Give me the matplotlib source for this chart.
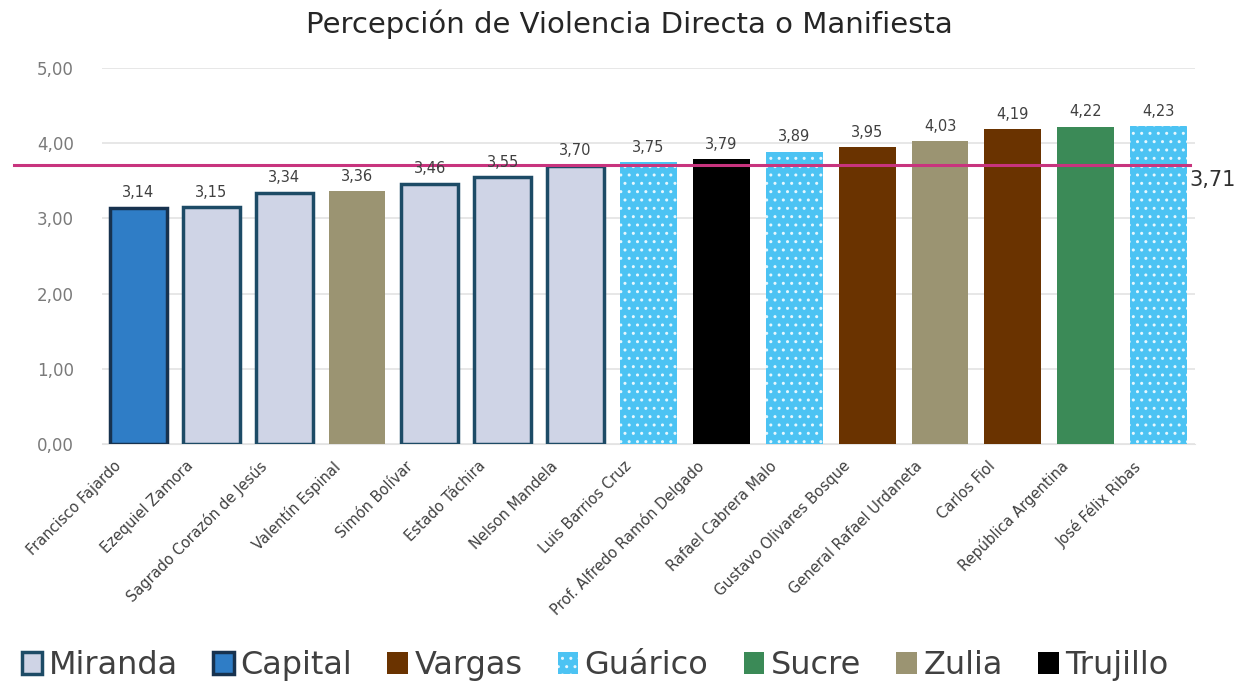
#! usr/bin/env python3
# coding:utf-8

import numpy as np
import matplotlib
matplotlib.use('Agg')
import matplotlib.pyplot as plt
from matplotlib.patches import Patch
import matplotlib.transforms as mtransforms

plt.rcParams['font.family'] = ['DejaVu Sans']

# datos
escuelas = ['Francisco Fajardo', 'Ezequiel Zamora', 'Sagrado Corazón de Jesús',
            'Valentín Espinal', 'Simón Bolívar', 'Estado Táchira', 'Nelson Mandela',
            'Luis Barrios Cruz', 'Prof. Alfredo Ramón Delgado', 'Rafael Cabrera Malo',
            'Gustavo Olivares Bosque', 'General Rafael Urdaneta', 'Carlos Fiol',
            'República Argentina', 'José Félix Ribas']
valores = [3.14, 3.15, 3.34, 3.36, 3.46, 3.55, 3.70, 3.75, 3.79, 3.89,
           3.95, 4.03, 4.19, 4.22, 4.23]
estados = ['Capital', 'Miranda', 'Miranda', 'Zulia', 'Miranda', 'Miranda', 'Miranda',
           'Guárico', 'Trujillo', 'Guárico', 'Vargas', 'Zulia', 'Vargas',
           'Sucre', 'Guárico']
promedio = 3.71
orden_leyenda = ['Miranda', 'Capital', 'Vargas', 'Guárico', 'Sucre', 'Zulia', 'Trujillo']

# estilo de cada estado
estilo = {
    'Miranda': dict(facecolor='#CFD4E6', edgecolor='#1D4B66', linewidth=2.5),
    'Capital': dict(facecolor='#2F7DC6', edgecolor='#17324F', linewidth=2.5),
    'Vargas': dict(facecolor='#6A3300', edgecolor='#6A3300', linewidth=0),
    'Guárico': dict(facecolor='#4CC3F3', edgecolor='#E6F7FE', linewidth=0, hatch='..'),
    'Sucre': dict(facecolor='#3B8A57', edgecolor='#3B8A57', linewidth=0),
    'Zulia': dict(facecolor='#9B9472', edgecolor='#9B9472', linewidth=0),
    'Trujillo': dict(facecolor='black', edgecolor='black', linewidth=0),
}

fig = plt.figure(figsize=(12.58, 6.90), dpi=100)
ax = fig.add_axes([0.081, 0.357, 0.869, 0.544])

x = np.arange(len(escuelas))
for xi, v, e in zip(x, valores, estados):
    ax.bar(xi, v, width=0.78, zorder=3, **estilo[e])
    ax.text(xi, v + 0.1, ('%.2f' % v).replace('.', ','), ha='center', va='bottom',
            fontsize=10.5, color='#404040', zorder=5)

# linea del promedio
trans = mtransforms.blended_transform_factory(ax.transAxes, ax.transData)
ax.plot([-0.08, 0.995], [promedio, promedio], transform=trans, color='#C8347E',
        linewidth=2.2, clip_on=False, zorder=4)
ax.text(0.995, promedio - 0.07, ('%.2f' % promedio).replace('.', ','), transform=trans,
        ha='left', va='top', fontsize=15, color='#303030')

ax.set_xlim(-0.5, 14.5)
ax.set_ylim(0, 5)
ax.set_yticks(np.arange(0, 5.01, 1))
ax.set_yticklabels([('%.2f' % t).replace('.', ',') for t in np.arange(0, 5.01, 1)],
                   fontsize=12, color='#7A7A7A')
ax.yaxis.grid(True, color='#E3E3E3', linewidth=1.2, zorder=0)
ax.tick_params(axis='both', length=0)
ax.tick_params(axis='y', pad=20)
for s in ['top', 'right', 'left']:
    ax.spines[s].set_visible(False)
ax.spines['bottom'].set_color('#E3E3E3')

ax.set_xticks(x)
ax.set_xticklabels(escuelas, rotation=45, ha='right', rotation_mode='anchor',
                   fontsize=10.5, color='#404040')
for lbl in ax.get_xticklabels():
    lbl.set_transform(lbl.get_transform() + mtransforms.ScaledTranslation(-0.25, -0.1, fig.dpi_scale_trans))

fig.text(0.5, 0.965, 'Percepción de Violencia Directa o Manifiesta', ha='center',
         va='center', fontsize=21, color='#262626')

handles = [Patch(**estilo[e]) for e in orden_leyenda]
fig.legend(handles, orden_leyenda, loc='center', bbox_to_anchor=(0.473, 0.035), ncol=7,
           frameon=False, fontsize=23, handlelength=0.65,
           handleheight=0.65, handletextpad=0.2, columnspacing=1.1, labelcolor='#404040')

plt.savefig('out.png', dpi=100)
